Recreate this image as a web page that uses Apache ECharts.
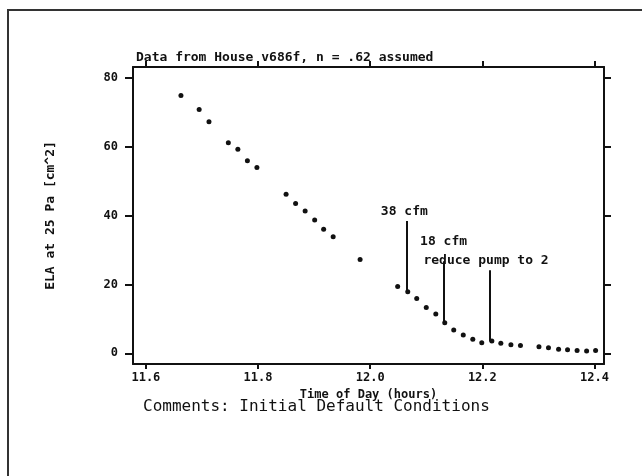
<!DOCTYPE html>
<html lang="en">

<head>
    <meta charset="UTF-8">
    <title>ELA at 25 Pa</title>
    <script src="https://cdn.jsdelivr.net/npm/echarts@6/dist/echarts.min.js"></script>
    <style>
        html, body { margin: 0; padding: 0; background: #fff; }
        #main { width: 642px; height: 476px; }
    </style>
</head>

<body>
    <div id="main"></div>

    <script>
        // measured points: time of day (hours) and ELA at 25 Pa (cm^2)
        var times = [11.6625, 11.695, 11.7125, 11.747, 11.764, 11.781, 11.798, 11.850, 11.867, 11.884,
            11.901, 11.917, 11.934, 11.982, 12.049, 12.067, 12.083, 12.100, 12.117, 12.133,
            12.149, 12.166, 12.183, 12.199, 12.217, 12.233, 12.251, 12.268, 12.301, 12.318,
            12.336, 12.352, 12.369, 12.386, 12.402];
        var ela = [74.8, 70.8, 67.2, 61.1, 59.2, 55.9, 53.9, 46.2, 43.5, 41.3,
            38.7, 36.0, 33.8, 27.2, 19.4, 17.9, 15.9, 13.3, 11.4, 8.9,
            6.8, 5.3, 4.1, 3.1, 3.6, 2.9, 2.5, 2.3, 1.9, 1.6,
            1.2, 1.0, 0.8, 0.7, 0.8];

        // axis ranges and tick labels
        var xMin = 11.577, xMax = 12.417;
        var yMin = -3.1, yMax = 83.1;
        var xTicks = [11.6, 11.8, 12.0, 12.2, 12.4];
        var yTicks = [0, 20, 40, 60, 80];

        // annotation texts and marker lines (data coordinates)
        var noteText = ['38 cfm', '18 cfm', 'reduce pump to 2'];
        var noteX = [12.019, 12.089, 12.095];
        var noteY = [41.1, 32.5, 27.0];
        var lineX = [12.065, 12.132, 12.214];
        var lineTop = [38.4, 26.7, 24.1];
        var lineBottom = [17.9, 8.9, 3.4];

        var ink = '#111';
        var mono = '"DejaVu Sans Mono", "Liberation Mono", monospace';

        var points = times.map(function (t, i) { return [t, ela[i]]; });
        var notes = noteText.map(function (s, i) { return { name: s, value: [noteX[i], noteY[i]] }; });
        var lines = lineX.map(function (x, i) {
            return [{ coord: [x, lineTop[i]] }, { coord: [x, lineBottom[i]] }];
        });

        function frameAxis(extra) {
            var base = {
                type: 'value',
                axisLine: { show: true, onZero: false, lineStyle: { color: ink, width: 2 } },
                axisTick: { show: true, lineStyle: { color: ink, width: 2 } },
                splitLine: { show: false },
                axisLabel: { show: false }
            };
            return Object.assign(base, extra);
        }

        var myChart = echarts.init(document.getElementById('main'));

        var option = {
            animation: false,
            backgroundColor: '#fff',
            title: {
                text: 'Data from House v686f, n = .62 assumed',
                left: 131,
                top: 46,
                textStyle: { fontFamily: mono, fontSize: 13, fontWeight: 'bold', color: ink }
            },
            grid: { left: 133, right: 38, top: 67, bottom: 112 },
            xAxis: [
                frameAxis({
                    position: 'bottom', min: xMin, max: xMax,
                    axisTick: { show: true, customValues: xTicks, length: 5, lineStyle: { color: ink, width: 2 } },
                    axisLabel: {
                        show: true, customValues: xTicks, margin: 8,
                        formatter: function (v) { return v.toFixed(1); },
                        fontFamily: mono, fontSize: 12, fontWeight: 'bold', color: ink
                    },
                    name: 'Time of Day (hours)',
                    nameLocation: 'middle',
                    nameGap: 22,
                    nameTextStyle: { fontFamily: mono, fontSize: 12, fontWeight: 'bold', color: ink }
                }),
                frameAxis({
                    position: 'top', min: xMin, max: xMax,
                    axisTick: { show: true, customValues: xTicks, length: 6, lineStyle: { color: ink, width: 2 } }
                })
            ],
            yAxis: [
                frameAxis({
                    position: 'left', min: yMin, max: yMax,
                    axisTick: { show: true, customValues: yTicks, length: 8, lineStyle: { color: ink, width: 2 } },
                    axisLabel: {
                        show: true, customValues: yTicks, margin: 15,
                        fontFamily: mono, fontSize: 12, fontWeight: 'bold', color: ink
                    },
                    name: 'ELA at 25 Pa [cm^2]',
                    nameLocation: 'middle',
                    nameGap: 76,
                    nameRotate: 90,
                    nameTextStyle: { fontFamily: mono, fontSize: 13, fontWeight: 'bold', color: ink }
                }),
                frameAxis({
                    position: 'right', min: yMin, max: yMax,
                    axisTick: { show: true, customValues: yTicks, length: 7, lineStyle: { color: ink, width: 2 } }
                })
            ],
            series: [
                {
                    name: 'ELA',
                    type: 'scatter',
                    symbol: 'circle',
                    symbolSize: 5,
                    itemStyle: { color: ink, opacity: 1 },
                    data: points
                },
                {
                    name: 'notes',
                    type: 'scatter',
                    symbolSize: 0,
                    silent: true,
                    itemStyle: { color: ink, opacity: 1 },
                    data: notes,
                    label: {
                        show: true,
                        position: 'right',
                        distance: 0,
                        formatter: '{b}',
                        fontFamily: mono,
                        fontSize: 13,
                        fontWeight: 'bold',
                        color: ink,
                        opacity: 1
                    },
                    markLine: {
                        silent: true,
                        symbol: 'none',
                        label: { show: false },
                        lineStyle: { color: ink, width: 2, type: 'solid', opacity: 1 },
                        data: lines
                    }
                }
            ],
            graphic: [
                {
                    type: 'polyline',
                    shape: { points: [[8, 476], [8, 10], [642, 10]] },
                    style: { stroke: '#333', lineWidth: 2, fill: null }
                },
                {
                    type: 'text',
                    left: 143,
                    top: 399,
                    style: {
                        text: 'Comments: Initial Default Conditions',
                        font: '16px "DejaVu Sans Mono", monospace',
                        fill: ink
                    }
                }
            ]
        };

        myChart.setOption(option);
    </script>
</body>

</html>
